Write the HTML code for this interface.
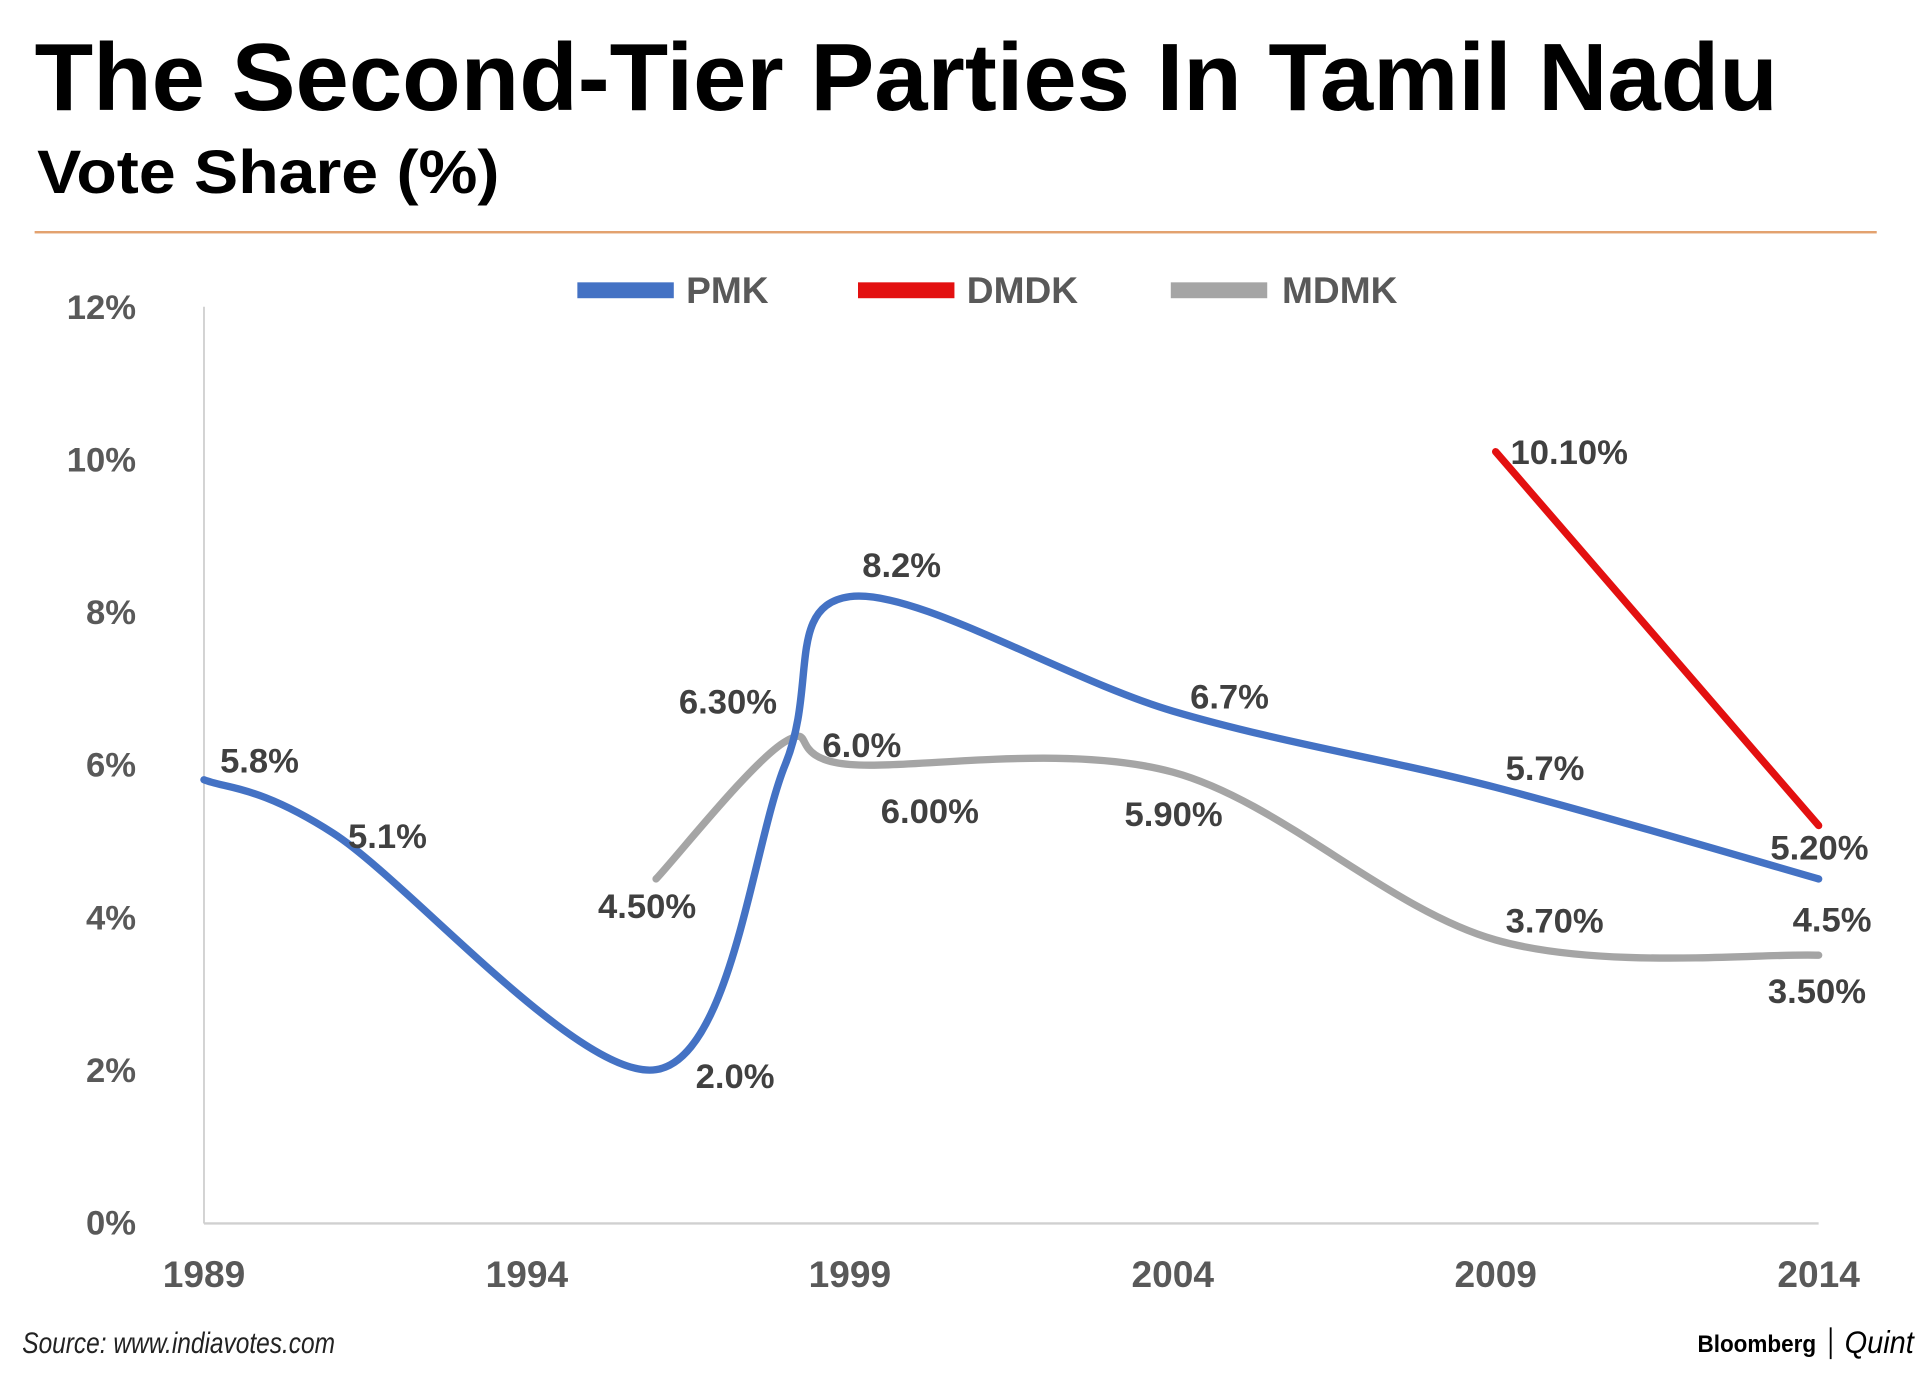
<!DOCTYPE html>
<html><head><meta charset="utf-8"><style>
html,body{margin:0;padding:0;background:#fff;}
svg{display:block;}
text{font-family:"Liberation Sans",sans-serif;}
</style></head><body>
<svg id="chart" width="1920" height="1375" viewBox="0 0 1553 1125" preserveAspectRatio="none" xmlns="http://www.w3.org/2000/svg">
<text x="28" y="90" font-size="78" font-weight="bold" fill="#000" textLength="1410" lengthAdjust="spacingAndGlyphs">The Second-Tier Parties In Tamil Nadu</text>
<text x="30" y="158" font-size="50" font-weight="bold" fill="#000" textLength="374" lengthAdjust="spacingAndGlyphs">Vote Share (%)</text>
<rect x="28" y="189" width="1490" height="2" fill="#e3a26f"/>
<g>
<rect x="467" y="231" width="78" height="13" fill="#4472c4"/>
<text x="555" y="248" font-size="30" font-weight="bold" fill="#595959">PMK</text>
<rect x="694" y="231" width="78" height="13" fill="#e31010"/>
<text x="782" y="248" font-size="30" font-weight="bold" fill="#595959">DMDK</text>
<rect x="947" y="231" width="78" height="13" fill="#a5a5a5"/>
<text x="1037" y="248" font-size="30" font-weight="bold" fill="#595959">MDMK</text>
</g>
<g id="axes"></g>
<g id="series"></g>
<g id="labels"></g>
<text x="18" y="1107" font-size="24" font-style="italic" fill="#222" textLength="253" lengthAdjust="spacingAndGlyphs">Source: www.indiavotes.com</text>
<text x="1373" y="1106" font-size="20" font-weight="bold" fill="#000" textLength="96" lengthAdjust="spacingAndGlyphs">Bloomberg</text>
<rect x="1480" y="1086" width="1.5" height="26" fill="#000"/>
<text x="1492" y="1107" font-size="26" font-style="italic" font-family="Liberation Serif,serif" fill="#000" textLength="56" lengthAdjust="spacingAndGlyphs">Quint</text>
</svg>
<script>
const years = [1989, 1994, 1999, 2004, 2009, 2014];
const yTicks = [0, 2, 4, 6, 8, 10, 12];
const pmkYears = [1989, 1991, 1996, 1998, 1999, 2004, 2009, 2014];
const pmkValues = [5.8, 5.1, 2.0, 6.0, 8.2, 6.7, 5.7, 4.5];
const mdmkYears = [1996, 1998, 1999, 2004, 2009, 2014];
const mdmkValues = [4.5, 6.3, 6.0, 5.9, 3.7, 3.5];
const dmdkYears = [2009, 2014];
const dmdkValues = [10.1, 5.2];

const pmkLabelOffsets = [[13,-6],[12,12],[32,15],[30,-6],[10,-16],[14,-2],[8,-6],[-21,43]];
const mdmkLabelOffsets = [[-47,32],[-86,-23],[25,48],[-39,44],[8,-6],[-41,39]];
const dmdkLabelOffsets = [[12,10],[-39,28]];

const X0 = 165, X1 = 1471, Y0 = 1000, Y1 = 251;
function xs(yr){ return X0 + (yr - 1989) / (2014 - 1989) * (X1 - X0); }
function ys(v){ return Y0 - v / 12 * (Y0 - Y1); }
const NS = "http://www.w3.org/2000/svg";
function mk(tag, attrs, parent){
  const e = document.createElementNS(NS, tag);
  for (const k in attrs) e.setAttribute(k, attrs[k]);
  parent.appendChild(e); return e;
}
const axes = document.getElementById('axes');
const yAxis = mk('line', {x1:X0, y1:Y1, x2:X0, y2:Y0+1, stroke:'#d0d0d0', 'stroke-width':1.5}, axes);


const xAxis = mk('line', {x1:X0, y1:Y0+1, x2:X1, y2:Y0+1, stroke:'#d0d0d0', 'stroke-width':2}, axes);


yTicks.forEach(t => {
  const tx = mk('text', {x:110, y:ys(t)+10, 'text-anchor':'end', 'font-size':28, 'font-weight':'bold', fill:'#595959'}, axes);
  tx.textContent = t + '%';
  
  
});
years.forEach(y => {
  const tx = mk('text', {x:xs(y), y:1053, 'text-anchor':'middle', 'font-size':30, 'font-weight':'bold', fill:'#595959'}, axes);
  tx.textContent = y;
  
  
});
function smoothPath(pts){
  if (pts.length < 3) return 'M' + pts.map(p => p[0] + ',' + p[1]).join(' L');
  let d = 'M' + pts[0][0] + ',' + pts[0][1];
  for (let i = 0; i < pts.length - 1; i++){
    const p0 = pts[i-1] || pts[i], p1 = pts[i], p2 = pts[i+1], p3 = pts[i+2] || p2;
    const c1 = [p1[0] + (p2[0]-p0[0])/6, p1[1] + (p2[1]-p0[1])/6];
    const c2 = [p2[0] - (p3[0]-p1[0])/6, p2[1] - (p3[1]-p1[1])/6];
    d += ' C' + c1.join(',') + ' ' + c2.join(',') + ' ' + p2.join(',');
  }
  return d;
}
const series = document.getElementById('series');
const labels = document.getElementById('labels');
function drawSeries(name, yrs, vals, color, dec, offs){
  const pts = yrs.map((y, i) => [xs(y), ys(vals[i])]);
  const p = mk('path', {d:smoothPath(pts), fill:'none', stroke:color, 'stroke-width':6, 'stroke-linecap':'round', 'stroke-linejoin':'round'}, series);
  
  
  pts.forEach((pt, i) => {
    const t = mk('text', {x:pt[0]+offs[i][0], y:pt[1]+offs[i][1], 'font-size':28, 'font-weight':'bold', fill:'#404040'}, labels);
    t.textContent = vals[i].toFixed(dec) + '%';
    
    
  });
}
drawSeries('mdmk', mdmkYears, mdmkValues, '#a5a5a5', 2, mdmkLabelOffsets);
drawSeries('pmk', pmkYears, pmkValues, '#4472c4', 1, pmkLabelOffsets);
drawSeries('dmdk', dmdkYears, dmdkValues, '#e31010', 2, dmdkLabelOffsets);
</script>
</body></html>
